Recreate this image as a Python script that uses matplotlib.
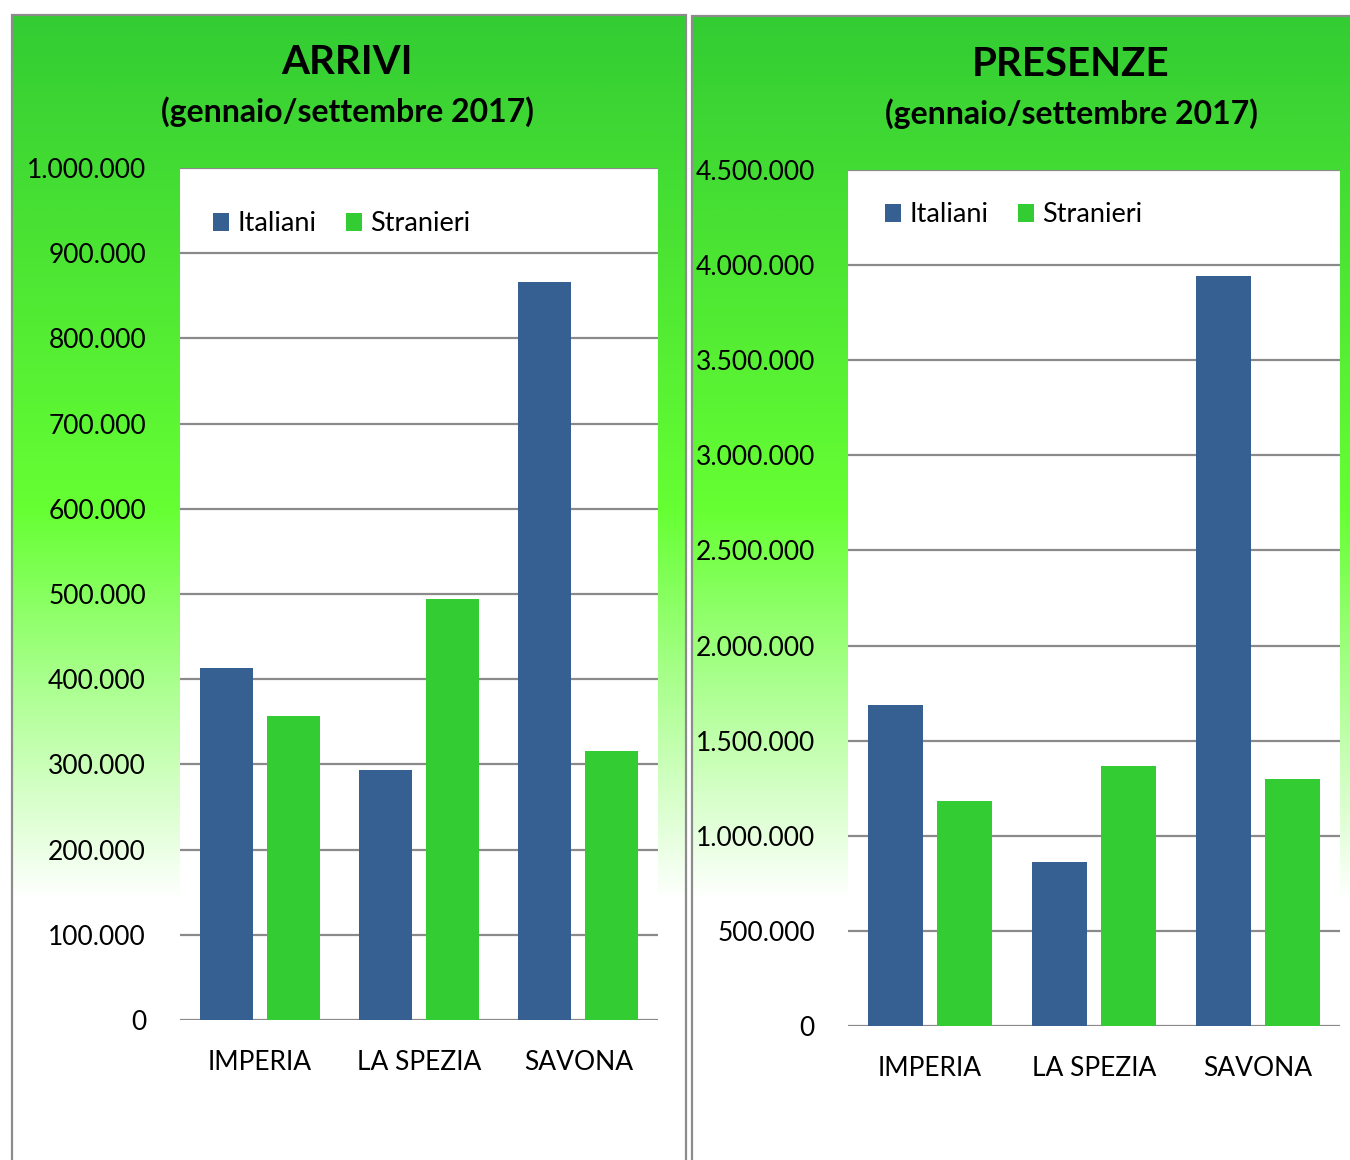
import numpy as np
import matplotlib
matplotlib.use("Agg")
import matplotlib.pyplot as plt
from matplotlib.patches import Rectangle
from matplotlib.ticker import FixedLocator, FuncFormatter

plt.rcParams['font.family'] = ['Lato', 'DejaVu Sans']

# ---------------- data ----------------
categories = ["IMPERIA", "LA SPEZIA", "SAVONA"]
series_names = ["Italiani", "Stranieri"]
arrivi_italiani = [413000, 293000, 866000]
arrivi_stranieri = [357000, 494000, 316000]
presenze_italiani = [1688000, 862000, 3943000]
presenze_stranieri = [1183000, 1367000, 1299000]
arrivi_ticks = [0, 100000, 200000, 300000, 400000, 500000, 600000, 700000, 800000, 900000, 1000000]
presenze_ticks = [0, 500000, 1000000, 1500000, 2000000, 2500000, 3000000, 3500000, 4000000, 4500000]
titles = ["ARRIVI", "PRESENZE"]
subtitle = "(gennaio/settembre 2017)"

# ---------------- style ----------------
W, H = 1350, 1160
BLUE = "#366092"
GREEN = "#33CC33"
GRID = "#8a8a8a"
BORDER = "#8c8c8c"

fig = plt.figure(figsize=(W / 100, H / 100), dpi=100)
fig.patch.set_facecolor("white")


def fx(px):
    return px / W


def fy(py):
    return 1 - py / H


def gradient_image(top_px, bottom_px, n=600):
    ys = np.linspace(top_px, bottom_px, n)
    stops_y = [top_px, 510, 900, bottom_px]
    c0 = np.array([51, 204, 51]) / 255
    c1 = np.array([102, 255, 51]) / 255
    c2 = np.array([255, 255, 255]) / 255
    stops_c = [c0, c1, c2, c2]
    img = np.zeros((n, 1, 3))
    for ch in range(3):
        img[:, 0, ch] = np.interp(ys, stops_y, [c[ch] for c in stops_c])
    return img


panels = [
    dict(x0=12, x1=686, top=15, ax=(180, 658, 168, 1020), ticks=arrivi_ticks,
         ymax=1000000, ital=arrivi_italiani, stra=arrivi_stranieri,
         title_x=347, title_y=63, sub_y=112, leg=(213, 224), pad=34, xpad=30),
    dict(x0=692, x1=1352, top=16, ax=(848, 1340, 170, 1026), ticks=presenze_ticks,
         ymax=4500000, ital=presenze_italiani, stra=presenze_stranieri,
         title_x=1071, title_y=65, sub_y=114, leg=(885, 215), pad=33, xpad=30),
]


def fmt(v, pos=None):
    return f"{int(v):,}".replace(",", ".")


for i, p in enumerate(panels):
    # background gradient panel
    bg = fig.add_axes([fx(p["x0"]), 0, fx(p["x1"] - p["x0"]), fy(p["top"])], zorder=0)
    bg.imshow(gradient_image(p["top"], H), aspect="auto", extent=[0, 1, 0, 1])
    bg.set_xlim(0, 1)
    bg.set_ylim(0, 1)
    bg.set_axis_off()
    # border
    fig.add_artist(Rectangle((fx(p["x0"]), -0.01), fx(p["x1"] - p["x0"]), fy(p["top"]) + 0.01,
                             transform=fig.transFigure, fill=False, edgecolor=BORDER,
                             linewidth=1.6, zorder=1))

    l, r, t, b = p["ax"]
    ax = fig.add_axes([fx(l), fy(b), fx(r - l), fy(t) - fy(b)], zorder=2)
    ax.set_facecolor("white")
    x = np.arange(len(categories))
    bw = 0.334
    off = 0.21
    ax.bar(x - off, p["ital"], width=bw, color=BLUE, label=series_names[0], zorder=3)
    ax.bar(x + off, p["stra"], width=bw, color=GREEN, label=series_names[1], zorder=3)
    ax.set_xlim(-0.5, len(categories) - 0.5)
    ax.set_ylim(0, p["ymax"])
    ax.yaxis.set_major_locator(FixedLocator(p["ticks"]))
    ax.yaxis.set_major_formatter(FuncFormatter(fmt))
    ax.set_xticks(x)
    ax.set_xticklabels(categories)
    ax.grid(axis="y", color=GRID, linewidth=1.6, zorder=1)
    ax.set_axisbelow(True)
    for s in ax.spines.values():
        s.set_visible(False)
    ax.tick_params(axis="y", length=0, pad=p["pad"] * 0.72, labelsize=19, labelcolor="#000000")
    ax.tick_params(axis="x", length=0, pad=p["xpad"] * 0.72, labelsize=19, labelcolor="#000000")

    ax.legend(loc="center left", bbox_to_anchor=(fx(p["leg"][0]), fy(p["leg"][1])),
              bbox_transform=fig.transFigure, ncol=2, frameon=False, fontsize=19.5,
              handlelength=0.6, handleheight=0.6, handletextpad=0.3,
              columnspacing=1.1, borderpad=0, borderaxespad=0)

    fig.text(fx(p["title_x"]), fy(p["title_y"]), titles[i], ha="center", va="center",
             fontsize=29, fontweight="bold", color="black", zorder=5)
    fig.text(fx(p["title_x"]), fy(p["sub_y"]), subtitle, ha="center", va="center",
             fontsize=23, fontweight="bold", color="black", zorder=5)

fig.savefig("out.png", dpi=100, facecolor="white")
